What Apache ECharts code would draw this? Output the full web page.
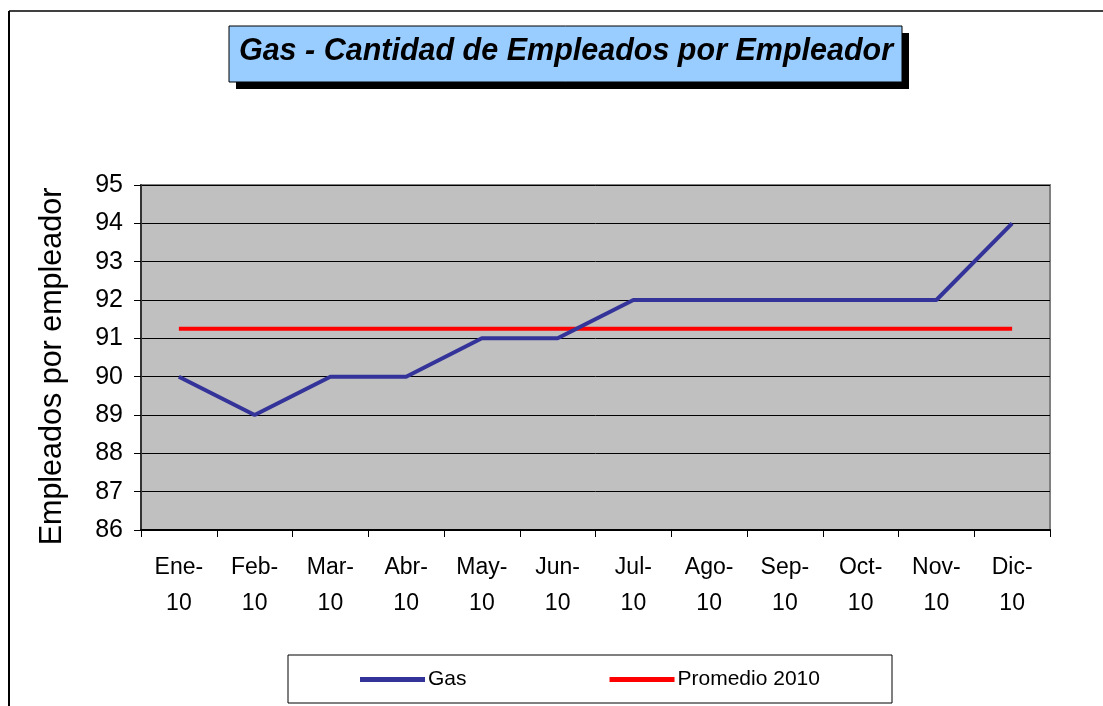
<!DOCTYPE html>
<html>
<head>
<meta charset="utf-8">
<script src="https://cdn.jsdelivr.net/npm/echarts@6/dist/echarts.min.js"></script>
<style>
  html, body { margin: 0; padding: 0; background: #ffffff; }
  #chart { width: 1103px; height: 706px; }
</style>
</head>
<body>
<div id="chart"></div>
<script>
const titleText = 'Gas - Cantidad de Empleados por Empleador';
const yAxisName = 'Empleados por empleador';
const categories = ['Ene-10', 'Feb-10', 'Mar-10', 'Abr-10', 'May-10', 'Jun-10', 'Jul-10', 'Ago-10', 'Sep-10', 'Oct-10', 'Nov-10', 'Dic-10'];
const gasValues = [90, 89, 90, 90, 91, 91, 92, 92, 92, 92, 92, 94];
const promedioValues = [91.25, 91.25, 91.25, 91.25, 91.25, 91.25, 91.25, 91.25, 91.25, 91.25, 91.25, 91.25];
const seriesNames = ['Gas', 'Promedio 2010'];
const yMin = 86, yMax = 95, yStep = 1;

const FONT = '"Liberation Sans", Arial, sans-serif';
const chart = echarts.init(document.getElementById('chart'), null, { renderer: 'canvas' });

chart.setOption({
  backgroundColor: '#ffffff',
  animation: false,
  title: {
    text: titleText,
    left: 566,
    top: 37,
    textAlign: 'center',
    padding: 0,
    textStyle: { fontFamily: FONT, fontSize: 30.5, fontWeight: 'bold', fontStyle: 'italic', color: '#000000' }
  },
  graphic: [
    { type: 'line', z: 0, shape: { x1: 9, y1: 11, x2: 1103, y2: 11 }, style: { stroke: '#404040', lineWidth: 2 } },
    { type: 'line', z: 0, shape: { x1: 9, y1: 11, x2: 9, y2: 706 }, style: { stroke: '#000000', lineWidth: 2 } },
    { type: 'rect', z: 0, shape: { x: 236, y: 33, width: 673, height: 56 }, style: { fill: '#000000' } },
    { type: 'rect', z: 0, shape: { x: 229, y: 26, width: 673, height: 56 }, style: { fill: '#99CCFF', stroke: '#000000', lineWidth: 1 } },
    { type: 'rect', z: 0, shape: { x: 288, y: 655, width: 604, height: 48 }, style: { fill: '#ffffff', stroke: '#000000', lineWidth: 1 } }
  ],
  legend: {
    data: seriesNames,
    left: 355,
    top: 664,
    itemWidth: 65,
    itemHeight: 5,
    itemGap: 143,
    icon: 'rect',
    textStyle: { fontFamily: FONT, fontSize: 21, color: '#000000', padding: [0, 0, 0, -2] }
  },
  grid: {
    left: 141, top: 185, right: 53, bottom: 176,
    show: true,
    backgroundColor: '#C0C0C0',
    borderColor: '#808080',
    borderWidth: 2
  },
  xAxis: {
    type: 'category',
    data: categories,
    boundaryGap: true,
    axisLine: { show: true, lineStyle: { color: '#000000', width: 2 } },
    axisTick: { show: true, length: 7, inside: false, lineStyle: { color: '#000000', width: 1 } },
    axisLabel: {
      interval: 0,
      margin: 20,
      fontFamily: FONT,
      fontSize: 23,
      lineHeight: 36,
      color: '#000000',
      formatter: v => v.replace('-', '-\n')
    },
    splitLine: { show: false }
  },
  yAxis: {
    type: 'value',
    min: yMin, max: yMax, interval: yStep,
    name: yAxisName,
    nameLocation: 'middle',
    nameGap: 73,
    nameTextStyle: { fontFamily: FONT, fontSize: 30.5, color: '#000000', padding: [0, 18, 0, 0] },
    axisLine: { show: true, lineStyle: { color: '#333333', width: 2 } },
    axisTick: { show: true, length: 7, lineStyle: { color: '#000000', width: 1 } },
    axisLabel: { margin: 18, fontFamily: FONT, fontSize: 25, color: '#000000' },
    splitLine: { show: true, lineStyle: { color: '#000000', width: 1 } }
  },
  series: [
    {
      name: seriesNames[0], type: 'line', data: gasValues,
      symbol: 'none', smooth: false,
      lineStyle: { color: '#333399', width: 4 },
      itemStyle: { color: '#333399' }, z: 3
    },
    {
      name: seriesNames[1], type: 'line', data: promedioValues,
      symbol: 'none',
      lineStyle: { color: '#FF0000', width: 4 },
      itemStyle: { color: '#FF0000' }, z: 2
    }
  ]
});
</script>
</body>
</html>
